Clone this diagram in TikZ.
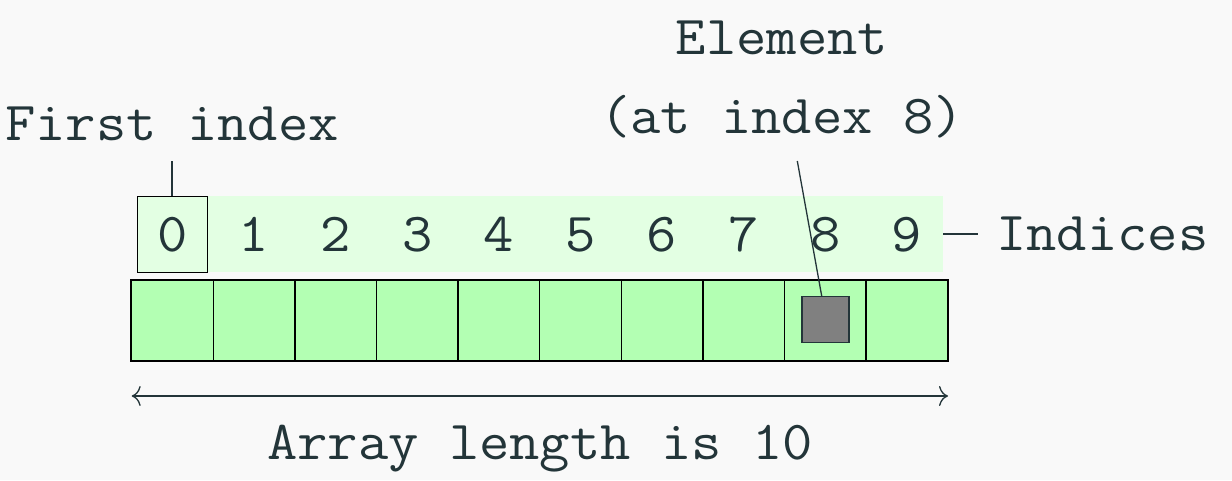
\documentclass[tikz,border=0pt]{standalone}
\usepackage{fontspec}
\setmonofont{Latin Modern Mono}[FakeStretch=1.07]
\usetikzlibrary{arrows.meta}
\definecolor{bg}{HTML}{F9F9F9}
\definecolor{ink}{HTML}{233539}
\definecolor{band}{HTML}{E3FFE3}
\definecolor{cell}{HTML}{B3FFB3}
\definecolor{elem}{HTML}{808080}
\tikzset{
  lbl/.style={font=\ttfamily\fontsize{55}{60}\selectfont, text=ink, inner sep=0pt, anchor=base},
  cellbox/.style={draw=black, fill=cell, line width=1.3pt, minimum width=81.6pt, minimum height=80pt, inner sep=0pt},
  conn/.style={draw=ink, line width=1.3pt},
}
\begin{document}
\begin{tikzpicture}[x=1pt,y=-1pt]
\fill[bg] (0,0) rectangle (1232,480);
\useasboundingbox (0,0) rectangle (1232,480);
% index band
\node[fill=band, minimum width=806pt, minimum height=76pt, inner sep=0pt] (band) at (540,234) {};
\node[draw=black, line width=1pt, minimum width=70pt, minimum height=76pt, inner sep=0pt] (box0) at (172,234) {};
% cells and indices
\foreach \i in {0,...,9} {
  \node[cellbox] (c\i) at ({131.7+40.8+81.6*\i},320.3) {};
  \node[lbl] (i\i) at ({131.7+40.8+81.6*\i},251) {\i};
}
\draw[black, line width=2pt] (c0.north west) rectangle (c9.south east);
% element
\node[draw=ink, fill=elem, line width=1.5pt, minimum width=47pt, minimum height=46pt, inner sep=0pt] (sq) at (825.5,319.7) {};
% labels
\node[lbl] (fidx) at (172,140) {First index};
\node[lbl] (el1) at (782,54) {Element};
\node[lbl] (el2) at (782,133) {(at index 8)};
\node[lbl, anchor=base west] (ind) at (996,250) {Indices};
\node[lbl] (len) at (540,459) {Array length is 10};
% connectors
\coordinate (fidxend) at (172,161);
\draw[conn] (fidxend) -- (box0.north);
\coordinate (elend) at (797.3,161);
\draw[conn] (elend) -- ([xshift=-3.8pt]sq.north);
\coordinate (indend) at (978,234);
\draw[conn] (band.east) -- (indend);
\coordinate (al) at (131.7,396);
\coordinate (ar) at (948,396);
\draw[conn, {Computer Modern Rightarrow[length=9pt,width=20pt]}-{Computer Modern Rightarrow[length=9pt,width=20pt]}] (al) -- (ar);
\end{tikzpicture}
\end{document}
